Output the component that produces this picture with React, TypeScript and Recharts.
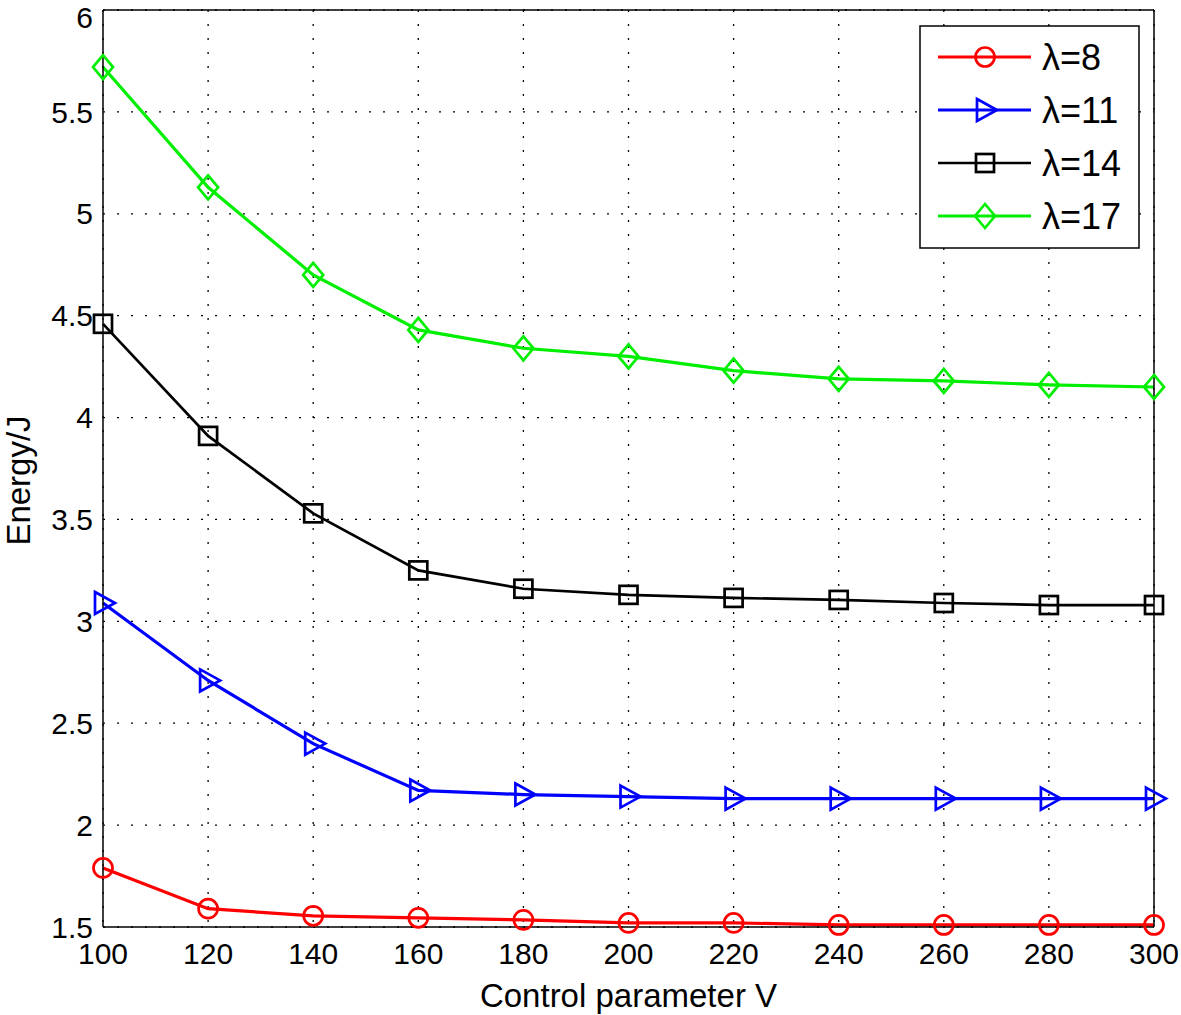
import React from 'react';
import { LineChart, Line, XAxis, YAxis, CartesianGrid } from 'recharts';

const vValues = [100, 120, 140, 160, 180, 200, 220, 240, 260, 280, 300];
const lambda8 = [1.79, 1.59, 1.555, 1.545, 1.535, 1.52, 1.52, 1.51, 1.51, 1.51, 1.51];
const lambda11 = [3.09, 2.71, 2.4, 2.17, 2.15, 2.14, 2.13, 2.13, 2.13, 2.13, 2.13];
const lambda14 = [4.46, 3.91, 3.53, 3.25, 3.16, 3.13, 3.115, 3.105, 3.09, 3.08, 3.08];
const lambda17 = [5.72, 5.13, 4.7, 4.43, 4.34, 4.3, 4.23, 4.19, 4.18, 4.16, 4.15];

const xTicks = [100, 120, 140, 160, 180, 200, 220, 240, 260, 280, 300];
const yTicks = [1.5, 2, 2.5, 3, 3.5, 4, 4.5, 5, 5.5, 6];

const seriesNames = ['λ=8', 'λ=11', 'λ=14', 'λ=17'];
const seriesKeys = ['l8', 'l11', 'l14', 'l17'];
const seriesColors = ['#ff0000', '#0000ff', '#000000', '#00ee00'];
const seriesMarkers = ['circle', 'triangle', 'square', 'diamond'];

const data = vValues.map((v, i) => ({
  v,
  l8: lambda8[i],
  l11: lambda11[i],
  l14: lambda14[i],
  l17: lambda17[i],
}));

const FONT = '"Liberation Sans", Arial, Helvetica, sans-serif';

function Marker({ kind, cx, cy, color }: { kind: string; cx: number; cy: number; color: string }) {
  const sw = 2.7;
  if (kind === 'circle') {
    return <circle cx={cx} cy={cy} r={9.5} fill="none" stroke={color} strokeWidth={sw} />;
  }
  if (kind === 'triangle') {
    const pts = `${cx - 8},${cy - 11} ${cx + 12},${cy} ${cx - 8},${cy + 11}`;
    return <polygon points={pts} fill="none" stroke={color} strokeWidth={sw} />;
  }
  if (kind === 'square') {
    return <rect x={cx - 9} y={cy - 9} width={18} height={18} fill="none" stroke={color} strokeWidth={sw} />;
  }
  const pts = `${cx},${cy - 12} ${cx + 10},${cy} ${cx},${cy + 12} ${cx - 10},${cy}`;
  return <polygon points={pts} fill="none" stroke={color} strokeWidth={sw} />;
}

function makeDot(kind: string, color: string) {
  return (props: any) => {
    const { cx, cy, index } = props;
    if (cx == null || cy == null) return <g key={`e-${kind}-${index}`} />;
    return (
      <g key={`d-${kind}-${index}`}>
        <Marker kind={kind} cx={cx} cy={cy} color={color} />
      </g>
    );
  };
}

function YLabel(props: any) {
  const vb = props.viewBox || { x: 0, y: 0, width: 0, height: 0 };
  const x = vb.x + 30;
  const y = vb.y + vb.height / 2 + 12;
  return (
    <text
      x={x}
      y={y}
      transform={`rotate(-90 ${x} ${y})`}
      textAnchor="middle"
      fontSize={33}
      fontFamily={FONT}
      fill="#000"
    >
      Energy/J
    </text>
  );
}

function LegendBox() {
  return (
    <svg
      width={221}
      height={224}
      style={{ position: 'absolute', left: 919, top: 25, display: 'block' }}
    >
      <rect x={1} y={1} width={219} height={222} fill="#fff" stroke="#000" strokeWidth={1.5} />
      {seriesNames.map((name, i) => {
        const y = 32 + i * 53;
        const color = seriesColors[i];
        return (
          <g key={`lg-${i}`}>
            <line x1={19} x2={112} y1={y} y2={y} stroke={color} strokeWidth={i === 2 ? 2.7 : 3.2} />
            <Marker kind={seriesMarkers[i]} cx={66} cy={y} color={color} />
            <text x={123} y={y + 13} fontSize={36} fontFamily={FONT} fill="#000">
              {name}
            </text>
          </g>
        );
      })}
    </svg>
  );
}

export default function App() {
  return (
    <div style={{ position: 'absolute', left: 0, top: 0, width: 1181, height: 1015, background: '#fff' }}>
      <LineChart
        width={1181}
        height={1015}
        data={data}
        margin={{ top: 10, right: 27, bottom: 0, left: 0 }}
      >
        <CartesianGrid stroke="#000" strokeDasharray="2 12" strokeWidth={1.3} />
        <XAxis
          dataKey="v"
          type="number"
          domain={[100, 300]}
          ticks={xTicks}
          tickLine={false}
          tickSize={0}
          tickMargin={16}
          height={88}
          axisLine={{ stroke: '#000', strokeWidth: 1.5 }}
          tick={{ fill: '#000', fontSize: 30, fontFamily: FONT }}
          label={{ value: 'Control parameter V', position: 'insideBottom', offset: 8, fill: '#000', fontSize: 33, fontFamily: FONT }}
        />
        <XAxis
          xAxisId="bm"
          dataKey="v"
          type="number"
          domain={[100, 300]}
          ticks={xTicks}
          orientation="bottom"
          mirror
          tick={false}
          tickSize={8}
          axisLine={false}
          tickLine={{ stroke: '#000', strokeWidth: 1.5 }}
        />
        <XAxis
          xAxisId="top"
          dataKey="v"
          type="number"
          domain={[100, 300]}
          ticks={xTicks}
          orientation="top"
          mirror
          tick={false}
          tickSize={8}
          axisLine={{ stroke: '#000', strokeWidth: 1.5 }}
          tickLine={{ stroke: '#000', strokeWidth: 1.5 }}
        />
        <YAxis
          type="number"
          domain={[1.5, 6]}
          ticks={yTicks}
          width={103}
          tickLine={false}
          tickSize={0}
          tickMargin={10}
          axisLine={{ stroke: '#000', strokeWidth: 1.5 }}
          tick={{ fill: '#000', fontSize: 30, fontFamily: FONT }}
          label={<YLabel />}
        />
        <YAxis
          yAxisId="lm"
          type="number"
          domain={[1.5, 6]}
          ticks={yTicks}
          orientation="left"
          mirror
          tick={false}
          tickSize={8}
          axisLine={false}
          tickLine={{ stroke: '#000', strokeWidth: 1.5 }}
        />
        <YAxis
          yAxisId="right"
          type="number"
          domain={[1.5, 6]}
          ticks={yTicks}
          orientation="right"
          mirror
          tick={false}
          tickSize={8}
          axisLine={{ stroke: '#000', strokeWidth: 1.5 }}
          tickLine={{ stroke: '#000', strokeWidth: 1.5 }}
        />
        {seriesKeys.map((k, i) => (
          <Line
            key={k}
            dataKey={k}
            name={seriesNames[i]}
            stroke={seriesColors[i]}
            strokeWidth={i === 2 ? 2.7 : 3.2}
            dot={makeDot(seriesMarkers[i], seriesColors[i])}
            isAnimationActive={false}
          />
        ))}
      </LineChart>
      <LegendBox />
    </div>
  );
}
